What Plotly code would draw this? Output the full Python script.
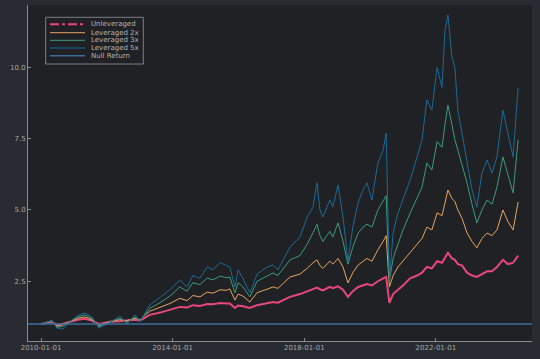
import plotly.graph_objects as go

dates = [
    "2010-01-01", "2010-05-01", "2010-06-28", "2010-09-02", "2010-11-17",
    "2011-02-13", "2011-05-04", "2011-07-20", "2011-10-04", "2012-02-06",
    "2012-05-26", "2012-08-10", "2012-11-09", "2013-01-04",
    "2013-04-23", "2013-08-14", "2013-12-02", "2014-03-21", "2014-06-10",
    "2014-08-14", "2014-10-30", "2015-01-19", "2015-03-25", "2015-06-10",
    "2015-08-25", "2015-09-27", "2015-11-24", "2015-12-28", "2016-02-20",
    "2016-05-07", "2016-07-26", "2016-11-14", "2017-01-19", "2017-03-14",
    "2017-07-27", "2017-11-14", "2018-02-02", "2018-04-08", "2018-05-22",
    "2018-06-24", "2018-07-27", "2018-10-12", "2018-11-14", "2019-01-11",
    "2019-03-07", "2019-05-01", "2019-06-24", "2019-08-22", "2019-10-15",
    "2019-11-28", "2020-01-22", "2020-03-28", "2020-05-26", "2020-06-28",
    "2020-08-03",
    "2020-09-13", "2020-11-06", "2021-01-01", "2021-03-21", "2021-06-07",
    "2021-07-31", "2021-09-23", "2021-11-17", "2022-01-15", "2022-03-10",
    "2022-04-12", "2022-05-15", "2022-06-28", "2022-07-31", "2022-09-02",
    "2022-10-19", "2022-12-13", "2023-02-06", "2023-04-01", "2023-05-27",
    "2023-07-23", "2023-09-16", "2023-11-10", "2024-01-15", "2024-03-10",
    "2024-05-07", "2024-07-02",
]

unleveraged = [
    1.00, 1.08, 0.95, 1.00, 1.07, 1.15, 1.18, 1.12, 1.00, 1.08, 1.10, 1.12, 1.15, 1.12,
    1.32, 1.40, 1.50, 1.60, 1.58, 1.66, 1.63, 1.70, 1.69, 1.74,
    1.72, 1.72, 1.56, 1.65, 1.62, 1.56, 1.66, 1.72, 1.77, 1.75,
    1.95, 2.05, 2.15, 2.22, 2.28, 2.22, 2.18, 2.30, 2.26, 2.32,
    2.20, 1.95, 2.15, 2.30, 2.35, 2.40, 2.35, 2.50, 2.60, 2.65,
    1.74,
    2.05, 2.20, 2.35, 2.60, 2.70, 2.80, 3.00, 2.95, 3.20, 3.15,
    3.35, 3.50, 3.30, 3.25, 3.10, 3.05, 2.80, 2.70, 2.65, 2.75,
    2.85, 2.85, 3.00, 3.25, 3.10, 3.15, 3.40,
]

lev2 = [
    1.00, 1.10, 0.92, 0.98, 1.08, 1.20, 1.25, 1.15, 0.95, 1.08, 1.15, 1.12, 1.20, 1.15,
    1.45, 1.58, 1.72, 1.90, 1.82, 2.00, 1.95, 2.12, 2.08, 2.20,
    2.18, 2.23, 1.84, 2.05, 1.98, 1.77, 2.10, 2.22, 2.30, 2.25,
    2.65, 2.75, 2.95, 3.15, 3.25, 3.05, 2.95, 3.20, 3.10, 3.30,
    3.00, 2.44, 2.80, 3.07, 3.20, 3.30, 3.20, 3.60, 3.90, 4.10,
    2.30,
    2.70, 3.00, 3.20, 3.49, 3.80, 4.00, 4.40, 4.30, 4.90, 4.80,
    5.30, 5.70, 5.40, 5.30, 5.00, 4.70, 4.19, 3.90, 3.67, 4.00,
    4.19, 4.10, 4.30, 5.00, 4.60, 4.30, 5.28,
]

lev3 = [
    1.00, 1.12, 0.88, 0.92, 1.08, 1.25, 1.32, 1.20, 0.90, 1.08, 1.20, 1.05, 1.25, 1.12,
    1.55, 1.75, 1.98, 2.30, 2.15, 2.45, 2.38, 2.61, 2.55, 2.68,
    2.62, 2.65, 2.09, 2.45, 2.30, 1.95, 2.50, 2.70, 2.79, 2.70,
    3.25, 3.40, 3.80, 4.20, 4.50, 4.10, 3.90, 4.25, 4.05, 4.55,
    3.90, 3.10, 3.70, 4.19, 4.40, 4.50, 4.40, 5.00, 5.30, 5.50,
    2.50,
    3.30, 3.80, 4.30, 4.89, 5.40, 5.80, 6.65, 6.40, 7.40, 7.20,
    8.00, 8.68, 8.00, 7.46, 7.10, 6.60, 5.95, 5.20, 4.54, 5.00,
    5.35, 5.20, 5.80, 6.86, 6.20, 5.60, 7.46,
]

lev5 = [
    1.00, 1.12, 0.85, 0.82, 1.07, 1.30, 1.39, 1.25, 0.86, 1.05, 1.28, 1.00, 1.32, 1.08,
    1.67, 1.95, 2.20, 2.54, 2.30, 2.70, 2.60, 3.00, 2.90, 3.15,
    3.05, 3.00, 2.30, 2.90, 2.60, 2.09, 2.75, 3.00, 3.07, 2.90,
    3.70, 4.05, 4.75, 5.10, 5.95, 5.00, 4.75, 5.35, 5.10, 5.88,
    4.75, 3.20, 4.40, 5.25, 5.70, 5.95, 5.35, 6.65, 7.10, 7.70,
    2.54,
    4.19, 4.89, 5.35, 6.05, 6.86, 7.46, 8.86, 8.50, 10.00, 9.30,
    11.30, 11.84, 10.37, 10.00, 8.50, 7.70, 6.75, 5.70, 5.10, 6.30,
    6.75, 6.30, 6.86, 8.50, 7.70, 6.86, 9.28,
]

null_return = 1.0

names = ["Unleveraged", "Leveraged 2x", "Leveraged 3x", "Leveraged 5x", "Null Return"]
colors = ["#e8477a", "#e9a45f", "#3f9a7c", "#1b6a96", "#3d6e9b"]
widths = [2.0, 1.0, 1.0, 1.0, 1.5]

x_ticks = ["2010-01-01", "2014-01-01", "2018-01-01", "2022-01-01"]
y_ticks = [2.5, 5.0, 7.5, 10.0]
y_tick_text = ["2.5", "5.0", "7.5", "10.0"]

fig = go.Figure()
for vals, nm, c, w in zip([unleveraged, lev2, lev3, lev5], names[:4], colors[:4], widths[:4]):
    fig.add_trace(go.Scatter(x=dates, y=vals, mode="lines", name=nm,
                             line=dict(color=c, width=w), showlegend=False))

# null return horizontal line across axis
fig.add_shape(type="line", xref="paper", x0=0, x1=1, yref="y", y0=null_return, y1=null_return,
              line=dict(color=colors[4], width=widths[4]), layer="above")

# manual legend
L, T = 28, 5
PW, PH = 504, 336
def px(x):
    return (x - L) / PW
def py(y):
    return (T + PH - y) / PH

fig.add_shape(type="rect", xref="paper", yref="paper", x0=px(45.7), x1=px(143.3),
              y0=py(64), y1=py(17.3), line=dict(color="#7d7f84", width=1),
              fillcolor="#1f2125", layer="above")
rows = [24.3, 32.7, 40.3, 48.0, 55.7]
dashes = ["dashdot", "solid", "solid", "solid", "solid"]
for nm, c, w, ry, d in zip(names, colors, widths, rows, dashes):
    fig.add_shape(type="line", xref="paper", yref="paper", x0=px(50), x1=px(85),
                  y0=py(ry), y1=py(ry), line=dict(color=c, width=w, dash=d), layer="above")
    fig.add_annotation(xref="paper", yref="paper", x=px(89), y=py(ry), text=nm,
                       showarrow=False, xanchor="left", yanchor="middle",
                       font=dict(size=7, color="#b4b4b8", family="DejaVu Sans"))

fig.update_layout(
    width=540, height=359,
    margin=dict(l=28, r=8, t=5, b=18),
    paper_bgcolor="#282b31",
    plot_bgcolor="#1f2125",
    font=dict(family="DejaVu Sans", size=7, color="#a8a9ad"),
    showlegend=False,
)
fig.update_xaxes(type="date", range=["2009-08-09", "2024-12-03"],
                 tickvals=x_ticks, ticktext=x_ticks,
                 showgrid=False, zeroline=False, showline=True, linecolor="#8a8c90",
                 linewidth=1, ticks="inside", ticklen=3, tickcolor="#8a8c90",
                 tickfont=dict(size=7, color="#a8a9ad"))
fig.update_yaxes(range=[0.4035, 12.19], tickvals=y_ticks, ticktext=y_tick_text,
                 showgrid=False, zeroline=False, showline=True, linecolor="#8a8c90",
                 linewidth=1, ticks="inside", ticklen=3, tickcolor="#8a8c90",
                 tickfont=dict(size=7, color="#a8a9ad"))

fig.write_html("out.html", config={"displayModeBar": False},
               post_script="document.body.style.margin='0';document.body.style.background='#282b31';")
